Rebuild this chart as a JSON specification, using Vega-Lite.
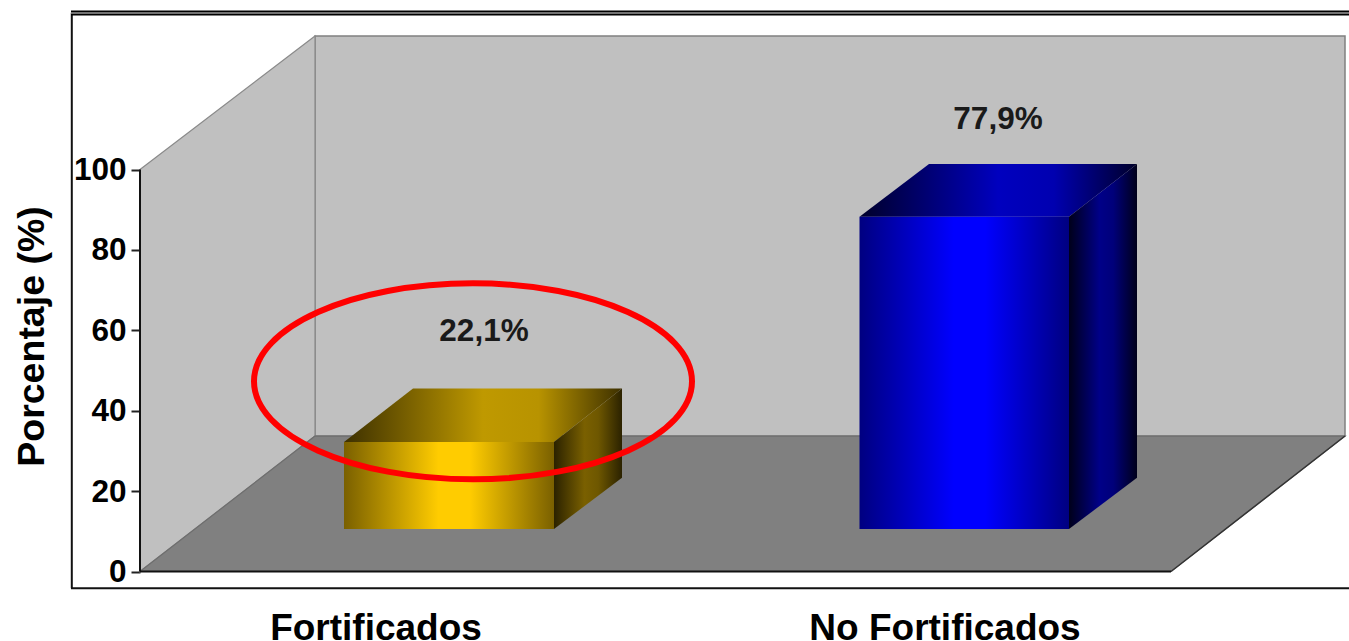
{
"$schema":"https://vega.github.io/schema/vega-lite/v6.json",
"autosize":"none","width":1278,"height":579,
"padding":{"left":71,"top":10,"right":0,"bottom":52},
"background":"#ffffff",
"view":{"stroke":null},
"config":{"font":"Liberation Sans"},
"datasets":{
"barras":[
{"categoria":"Fortificados","valor":22.1,"etiqueta":"22,1%","x":273,"x2":483,"y":32.2,"y2":10.57},
{"categoria":"No Fortificados","valor":77.9,"etiqueta":"77,9%","x":788.5,"x2":998,"y":88.26,"y2":10.57}
],
"etiquetas":[
{"categoria":"Fortificados","etiqueta":"22,1%","x":413,"y":59.6},
{"categoria":"No Fortificados","etiqueta":"77,9%","x":927,"y":112.4}
],
"techos":[
{"categoria":"Fortificados","y":32.2,"x":273,"x2":483},
{"categoria":"Fortificados","y":45.5,"x":342,"x2":551},
{"categoria":"No Fortificados","y":88.26,"x":788.5,"x2":998},
{"categoria":"No Fortificados","y":101.4,"x":858,"x2":1066}
],
"lados":[
{"categoria":"Fortificados","x":483,"y":32.2,"y2":10.57},
{"categoria":"Fortificados","x":551,"y":45.5,"y2":23.3},
{"categoria":"No Fortificados","x":998,"y":88.26,"y2":10.57},
{"categoria":"No Fortificados","x":1066,"y":101.4,"y2":23.3}
],
"paredIzq":[{"x":69,"y":100,"y2":0},{"x":244,"y":133.2,"y2":33.7}],
"paredFondo":[{"x":244,"x2":1274,"y":133.2,"y2":33.7}],
"suelo":[{"y":0,"x":69,"x2":1100},{"y":33.7,"x":244,"x2":1274}],
"marco":[
{"x":0.8,"x2":0.8,"y":139.0,"y2":-4.18},
{"x":0,"x2":1278,"y":-4.18,"y2":-4.18},
{"x":69,"x2":69,"y":100,"y2":0},
{"x":69,"x2":1100,"y":0,"y2":0}
],
"diagonal":[{"x":1100,"x2":1274,"y":0,"y2":33.7}],
"marcoSup":[{"x":0,"x2":1278,"y":138.95,"y2":138.95}],
"elipse":[{"x":402,"y":47.3}]
},
"encoding":{
"x":{"field":"x","type":"quantitative","title":null,
"scale":{"domain":[0,1278],"nice":false,"zero":false},
"axis":{"values":[304.5,873.5],"labelExpr":"datum.value<500?'Fortificados':'No Fortificados'","domain":false,"ticks":false,"grid":false,"labelFontSize":37,"labelFontWeight":"bold","labelColor":"#000000","labelPadding":21,"labelBaseline":"top","labelOverlap":false,"labelFlush":false,"labelLimit":600}},
"y":{"field":"y","type":"quantitative","title":"Porcentaje (%)",
"scale":{"domain":[-4.353,139.68],"nice":false,"zero":false},
"axis":{"values":[0,20,40,60,80,100],"offset":-69,"domain":false,"grid":false,"tickSize":9,"tickWidth":2,"tickColor":"#222222","labelFontSize":31.5,"labelFontWeight":"bold","labelColor":"#000000","labelPadding":5,"labelOffset":1,"labelOverlap":false,"labelFlush":false,"titleFontSize":37.5,"titleFontWeight":"bold","titleColor":"#000000","titleX":-108,"titleY":326,"titleAngle":270,"titleAlign":"center","titleBaseline":"middle"}}
},
"layer":[
{"data":{"name":"paredFondo"},"mark":{"type":"rect","fill":"#c0c0c0","stroke":"#808080","strokeWidth":1.5},"encoding":{"x2":{"field":"x2"},"y2":{"field":"y2"}}},
{"data":{"name":"paredIzq"},"mark":{"type":"area","fill":"#c0c0c0","stroke":"#8a8a8a","strokeWidth":1.2},"encoding":{"y2":{"field":"y2"}}},
{"data":{"name":"suelo"},"mark":{"type":"area","orient":"horizontal","fill":"#808080","stroke":"#6e6e6e","strokeWidth":1.2},"encoding":{"x2":{"field":"x2"}}},
{"data":{"name":"marco"},"mark":{"type":"rule","stroke":"#111111","strokeWidth":2},"encoding":{"x2":{"field":"x2"},"y2":{"field":"y2"}}},
{"data":{"name":"diagonal"},"mark":{"type":"rule","stroke":"#333333","strokeWidth":1.5},"encoding":{"x2":{"field":"x2"},"y2":{"field":"y2"}}},
{"data":{"name":"marcoSup"},"mark":{"type":"rule","stroke":"#000000","strokeWidth":5},"encoding":{"x2":{"field":"x2"},"y2":{"field":"y2"}}},
{"data":{"name":"marcoSup"},"mark":{"type":"rule","stroke":"#999999","strokeWidth":1.5},"encoding":{"x2":{"field":"x2"},"y2":{"field":"y2"}}},
{"data":{"name":"techos"},"transform":[{"filter":"datum.categoria==='Fortificados'"}],"mark":{"type":"area","orient":"horizontal","fill":{"gradient":"linear","x1":0,"x2":1,"y1":0,"y2":0,"stops":[{"offset":0,"color":"#3d3000"},{"offset":0.5,"color":"#bf9900"},{"offset":0.7,"color":"#b89300"},{"offset":1,"color":"#3d3000"}]}},"encoding":{"x2":{"field":"x2"}}},
{"data":{"name":"lados"},"transform":[{"filter":"datum.categoria==='Fortificados'"}],"mark":{"type":"area","fill":{"gradient":"linear","x1":0,"x2":1,"y1":0,"y2":0,"stops":[{"offset":0,"color":"#2b2200"},{"offset":0.45,"color":"#7a6000"},{"offset":0.65,"color":"#6e5700"},{"offset":1,"color":"#2b2200"}]}},"encoding":{"y2":{"field":"y2"}}},
{"data":{"name":"barras"},"transform":[{"filter":"datum.categoria==='Fortificados'"}],"mark":{"type":"rect","fill":{"gradient":"linear","x1":0,"x2":1,"y1":0,"y2":0,"stops":[{"offset":0,"color":"#7a6000"},{"offset":0.45,"color":"#ffcc00"},{"offset":0.6,"color":"#ffcc00"},{"offset":1,"color":"#7a6000"}]}},"encoding":{"x2":{"field":"x2"},"y2":{"field":"y2"}}},
{"data":{"name":"techos"},"transform":[{"filter":"datum.categoria==='No Fortificados'"}],"mark":{"type":"area","orient":"horizontal","fill":{"gradient":"linear","x1":0,"x2":1,"y1":0,"y2":0,"stops":[{"offset":0,"color":"#00002a"},{"offset":0.5,"color":"#0000bf"},{"offset":0.7,"color":"#0000b0"},{"offset":1,"color":"#00002a"}]}},"encoding":{"x2":{"field":"x2"}}},
{"data":{"name":"lados"},"transform":[{"filter":"datum.categoria==='No Fortificados'"}],"mark":{"type":"area","fill":{"gradient":"linear","x1":0,"x2":1,"y1":0,"y2":0,"stops":[{"offset":0,"color":"#00001a"},{"offset":0.45,"color":"#000088"},{"offset":0.65,"color":"#00007a"},{"offset":1,"color":"#00001a"}]}},"encoding":{"y2":{"field":"y2"}}},
{"data":{"name":"barras"},"transform":[{"filter":"datum.categoria==='No Fortificados'"}],"mark":{"type":"rect","fill":{"gradient":"linear","x1":0,"x2":1,"y1":0,"y2":0,"stops":[{"offset":0,"color":"#000080"},{"offset":0.45,"color":"#0000ff"},{"offset":0.6,"color":"#0000ff"},{"offset":1,"color":"#000080"}]}},"encoding":{"x2":{"field":"x2"},"y2":{"field":"y2"}}},
{"data":{"name":"etiquetas"},"mark":{"type":"text","fontSize":31.5,"fontWeight":"bold","color":"#1a1a1a","align":"center","baseline":"middle"},"encoding":{"text":{"field":"etiqueta"}}},
{"data":{"name":"elipse"},"mark":{"type":"point","filled":false,"shape":"M-1,0 A1,0.4475 0 1,1 1,0 A1,0.4475 0 1,1 -1,0 Z","size":191844,"stroke":"#ff0000","strokeWidth":6,"opacity":1}}
]
}
